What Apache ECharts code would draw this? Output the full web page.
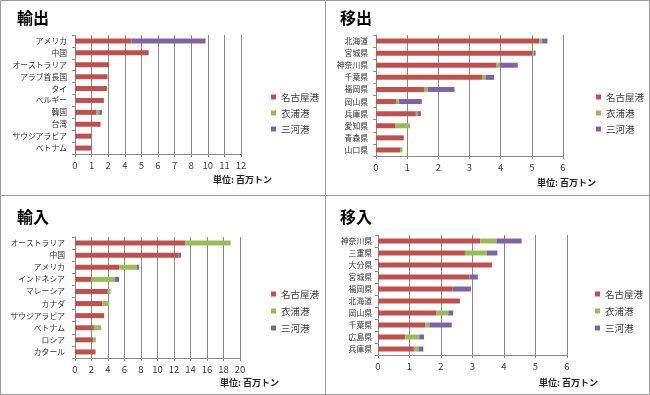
<!DOCTYPE html>
<html><head><meta charset="utf-8">
<script src="https://cdn.jsdelivr.net/npm/echarts@6/dist/echarts.min.js"></script>
<style>html,body{margin:0;padding:0;background:#fff}#c{width:650px;height:395px}</style>
</head><body><div id="c"></div>
<script>
const ports = ['名古屋港', '衣浦港', '三河港'];

// 輸出 (export) — values in gridline steps; tick labels as printed in the picture
const exportCats = ['アメリカ','中国','オーストラリア','アラブ首長国','タイ','ベルギー','韓国','台湾','サウジアラビア','ベトナム'];
const exportNagoya = [3.4, 4.44, 2.06, 1.96, 1.92, 1.74, 1.3, 1.54, 1.0, 1.0];
const exportKinuura = [0, 0, 0, 0, 0, 0, 0.16, 0, 0, 0];
const exportMikawa = [4.46, 0, 0, 0, 0, 0, 0.16, 0, 0, 0];
const exportTicks = ['0','1','2','4','5','6','7','8','10','11','12'];

// 移出 (domestic outbound)
const outCats = ['北海道','宮城県','神奈川県','千葉県','福岡県','岡山県','兵庫県','愛知県','青森県','山口県'];
const outNagoya = [5.24, 5.02, 3.87, 3.4, 1.54, 0.66, 1.28, 0.63, 0.89, 0.79];
const outKinuura = [0.09, 0.04, 0.1, 0.12, 0.12, 0.07, 0.05, 0.42, 0, 0.06];
const outMikawa = [0.17, 0.06, 0.58, 0.27, 0.86, 0.74, 0.11, 0.03, 0, 0];
const outTicks = ['0','1','2','3','4','5','6'];

// 輸入 (import)
const importCats = ['オーストラリア','中国','アメリカ','インドネシア','マレーシア','カナダ','サウジアラビア','ベトナム','ロシア','カタール'];
const importNagoya = [13.36, 12.56, 5.35, 1.97, 3.98, 3.3, 3.54, 2.29, 2.21, 2.49];
const importKinuura = [5.51, 0, 2.17, 2.86, 0.32, 0.85, 0, 0.89, 0.32, 0];
const importMikawa = [0, 0.3, 0.24, 0.52, 0, 0, 0, 0, 0, 0];
const importTicks = ['0','2','4','6','8','10','12','14','16','18','20'];

// 移入 (domestic inbound)
const inCats = ['神奈川県','三重県','大分県','宮城県','福岡県','北海道','岡山県','千葉県','広島県','兵庫県'];
const inNagoya = [3.25, 2.76, 3.62, 2.91, 2.37, 2.6, 1.86, 1.51, 0.87, 1.14];
const inKinuura = [0.51, 0.69, 0, 0, 0, 0, 0.37, 0.12, 0.44, 0.15];
const inMikawa = [0.8, 0.34, 0, 0.26, 0.58, 0, 0.16, 0.71, 0.15, 0.15];
const inTicks = ['0','1','2','3','4','5','6'];

const colors = ['#C0504D', '#9BBB59', '#8064A2'];
const FF = '"Noto Sans CJK JP", "Noto Sans", sans-serif';
const gridColor = '#8a8a8a';

const panels = [
  {title:'輸出', tx:17, ty:10, cats:exportCats, vals:[exportNagoya, exportKinuura, exportMikawa], ticks:exportTicks, step:1,
   grid:{left:75, top:35, width:166, height:119}, ylm:8, lg:{left:271, top:91, gap:4}, unit:{x:213, y:175}},
  {title:'移出', tx:340, ty:10, cats:outCats, vals:[outNagoya, outKinuura, outMikawa], ticks:outTicks, step:1,
   grid:{left:376, top:35, width:187, height:121}, ylm:8, lg:{left:596, top:91, gap:4}, unit:{x:537, y:178}},
  {title:'輸入', tx:17, ty:209, cats:importCats, vals:[importNagoya, importKinuura, importMikawa], ticks:importTicks, step:2,
   grid:{left:75, top:237, width:165, height:121}, ylm:10, lg:{left:271, top:288, gap:5}, unit:{x:220, y:378}},
  {title:'移入', tx:340, ty:209, cats:inCats, vals:[inNagoya, inKinuura, inMikawa], ticks:inTicks, step:1,
   grid:{left:378, top:235, width:189, height:120}, ylm:6, lg:{left:595, top:288, gap:5}, unit:{x:539, y:378}}
];

const option = {
  animation: false,
  textStyle: {fontFamily: FF},
  title: [], grid: [], xAxis: [], yAxis: [], series: [], legend: [],
  graphic: []
};

panels.forEach((p, i) => {
  option.title.push({text: p.title, left: p.tx, top: p.ty, padding: 0,
    textStyle: {fontSize: 16, fontWeight: 'bold', color: '#000', fontFamily: FF}});
  option.grid.push(p.grid);
  const n = p.ticks.length - 1;
  option.xAxis.push({
    gridIndex: i, type: 'value', min: 0, max: n * p.step, interval: p.step,
    axisLine: {show: true, lineStyle: {color: gridColor}},
    axisTick: {show: true, length: 3, lineStyle: {color: gridColor}},
    splitLine: {show: true, lineStyle: {color: gridColor, width: 1}},
    axisLabel: {fontSize: 9.5, color: '#404040', margin: 7, fontFamily: FF,
      formatter: v => p.ticks[Math.round(v / p.step)]}
  });
  option.yAxis.push({
    gridIndex: i, type: 'category', data: p.cats, inverse: true,
    axisLine: {show: true, lineStyle: {color: gridColor}},
    axisTick: {show: true, length: 3, alignWithLabel: false, lineStyle: {color: gridColor}},
    splitLine: {show: false},
    axisLabel: {fontSize: 7.8, color: '#333', margin: p.ylm, interval: 0, fontFamily: FF}
  });
  ports.forEach((name, k) => {
    option.series.push({
      name: name, type: 'bar', xAxisIndex: i, yAxisIndex: i, stack: 'p' + i,
      data: p.vals[k], barWidth: 5, itemStyle: {color: colors[k]}
    });
  });
  option.legend.push({
    orient: 'vertical', left: p.lg.left, top: p.lg.top, padding: 0,
    itemWidth: 5, itemHeight: 5, itemGap: p.lg.gap, icon: 'rect', data: ports,
    textStyle: {fontSize: 9.5, lineHeight: 12, color: '#404040', fontFamily: FF}
  });
  option.graphic.push({type: 'text', left: p.unit.x, top: p.unit.y,
    style: {text: '単位: 百万トン', font: 'bold 9px ' + FF, fill: '#222'}});
});

option.graphic.push(
  {type: 'rect', shape: {x: 0.5, y: 0.5, width: 649, height: 394}, style: {fill: 'none', stroke: '#9a9a9a', lineWidth: 1}},
  {type: 'line', shape: {x1: 325.5, y1: 0, x2: 325.5, y2: 395}, style: {stroke: '#9a9a9a', lineWidth: 1}},
  {type: 'line', shape: {x1: 0, y1: 195.5, x2: 650, y2: 195.5}, style: {stroke: '#9a9a9a', lineWidth: 1}}
);

const chart = echarts.init(document.getElementById('c'), null, {renderer: 'canvas'});
chart.setOption(option);
</script>
</body></html>
